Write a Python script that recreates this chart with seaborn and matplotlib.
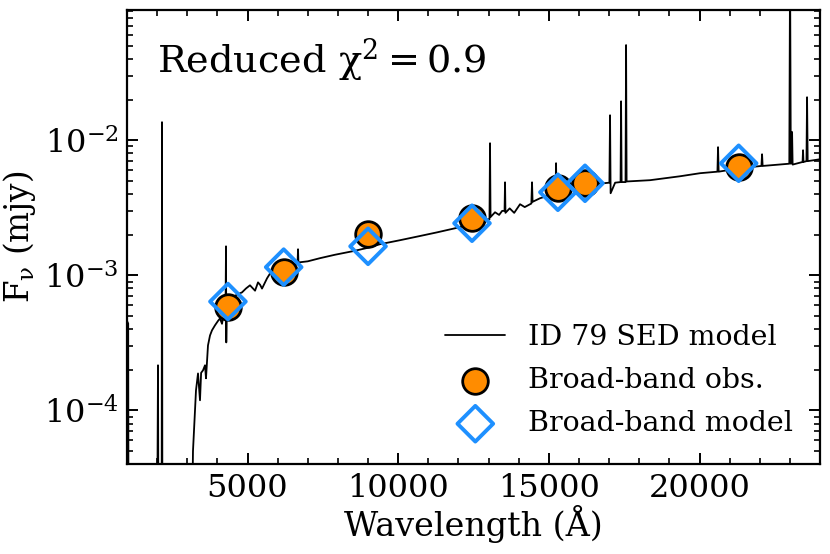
import numpy as np
import pandas as pd
import matplotlib
matplotlib.use("Agg")
import matplotlib.pyplot as plt
import matplotlib.ticker as mticker
import seaborn as sns

# ── data ─────────────────────────────────────────────────────────────────────
sed_wave = [
    1000, 1040, 1050, 2000, 2029, 2045, 2150, 2162, 2175, 3150,
    3190, 3290, 3357, 3423, 3460, 3522, 3589, 3622, 3688, 3755,
    3821, 3921, 4020, 4087, 4153, 4219, 4270, 4286, 4295, 4310,
    4419, 4518, 4650, 4817, 4950, 5082, 5250, 5348, 5420, 5481,
    5647, 5813, 6078, 6300, 6500, 6660, 6676, 6690, 6742, 7000,
    7406, 7900, 8501, 9000, 9397, 10061, 10700, 11289, 12000, 12716,
    12981, 13030, 13048, 13065, 13214, 13350, 13450, 13530, 13546, 13560,
    13700, 13850, 14044, 14200, 14420, 14442, 14460, 14708, 15000, 15220,
    15239, 15255, 15600, 16036, 16500, 16799, 17010, 17031, 17050, 17200,
    17380, 17397, 17415, 17545, 17563, 17580, 18359, 19354, 20018, 20595,
    20615, 20635, 21346, 22055, 22076, 22095, 22980, 23005, 23030, 23060,
    23072, 23090, 23420, 23436, 23450, 23550, 23569, 23590, 24000, 24500,
]
sed_flux = [
    4.6e-4, 4.4e-4, 1e-5, 1e-5, 2.16e-4, 1e-5, 1e-5, 1.36e-2, 1e-5, 1e-5,
    5e-5, 1.41e-4, 1.88e-4, 1.19e-4, 1.9e-4, 1.98e-4, 2.16e-4, 1.73e-4, 3.03e-4, 3.59e-4,
    3.92e-4, 4.27e-4, 4.6e-4, 4.8e-4, 4.38e-4, 5.32e-4, 5.4e-4, 1.64e-3, 3.19e-4, 5.6e-4,
    6.3e-4, 6.9e-4, 7.2e-4, 7.48e-4, 8.0e-4, 8.44e-4, 7.7e-4, 8.87e-4, 8.5e-4, 7.98e-4,
    9.5e-4, 1.09e-3, 1.10e-3, 1.13e-3, 1.2e-3, 1.22e-3, 1.56e-3, 1.22e-3, 1.25e-3, 1.27e-3,
    1.34e-3, 1.42e-3, 1.51e-3, 1.6e-3, 1.70e-3, 1.82e-3, 1.95e-3, 2.08e-3, 2.26e-3, 2.47e-3,
    2.6e-3, 2.6e-3, 9.5e-3, 2.7e-3, 2.93e-3, 2.8e-3, 3.0e-3, 3.0e-3, 4.88e-3, 2.9e-3,
    3.13e-3, 2.9e-3, 3.36e-3, 3.2e-3, 3.4e-3, 4.88e-3, 3.5e-3, 3.72e-3, 3.9e-3, 4.05e-3,
    6.76e-3, 4.05e-3, 4.3e-3, 4.56e-3, 4.7e-3, 4.80e-3, 4.85e-3, 1.53e-2, 4.05e-3, 4.85e-3,
    4.9e-3, 1.94e-2, 4.9e-3, 4.9e-3, 5.06e-2, 4.95e-3, 5.06e-3, 5.41e-3, 5.70e-3, 5.85e-3,
    8.88e-3, 5.85e-3, 6.21e-3, 6.45e-3, 7.87e-3, 6.45e-3, 6.7e-3, 2.0e-1, 6.7e-3, 6.8e-3,
    1.15e-2, 6.6e-3, 6.9e-3, 8.43e-3, 6.9e-3, 7.0e-3, 2.08e-2, 7.0e-3, 7.23e-3, 7.4e-3,
]

band_wave  = [4350, 6200, 9000, 12450, 15300, 16200, 21300]
obs_flux   = [5.8e-4, 1.05e-3, 2.01e-3, 2.64e-3, 4.41e-3, 4.80e-3, 6.31e-3]
model_flux = [6.4e-4, 1.15e-3, 1.64e-3, 2.43e-3, 4.12e-3, 4.80e-3, 6.75e-3]

sed = pd.DataFrame({"wave": sed_wave, "flux": sed_flux})
bands = pd.DataFrame({"wave": band_wave, "obs": obs_flux, "model": model_flux})

# ── style ────────────────────────────────────────────────────────────────────
sns.set_theme(style="ticks")
plt.rcParams.update({
    "font.family": ["DejaVu Serif"],
    "mathtext.fontset": "dejavuserif",
    "text.color": "black", "axes.labelcolor": "black",
    "xtick.color": "black", "ytick.color": "black",
    "axes.edgecolor": "black", "axes.linewidth": 1.6,
    "xtick.direction": "in", "ytick.direction": "in",
    "xtick.top": True, "ytick.right": True,
    "xtick.major.size": 8, "ytick.major.size": 8,
    "xtick.minor.size": 4, "ytick.minor.size": 4,
    "xtick.major.width": 1.4, "ytick.major.width": 1.4,
    "xtick.minor.width": 1.2, "ytick.minor.width": 1.2,
    "xtick.minor.visible": True, "ytick.minor.visible": True,
})

fig = plt.figure(figsize=(8.3, 5.54), dpi=100)
ax = fig.add_axes([0.153, 0.162, 0.835, 0.820])

sns.lineplot(data=sed, x="wave", y="flux", ax=ax, sort=False, estimator=None,
             color="black", lw=1.3, label="ID 79 SED model")
sns.scatterplot(data=bands, x="wave", y="obs", ax=ax, s=340, color="darkorange",
                edgecolor="black", linewidth=2, label="Broad-band obs.", zorder=3)
sns.scatterplot(data=bands, x="wave", y="model", ax=ax, marker="D", s=330,
                facecolor="none", edgecolor="dodgerblue", linewidth=2.8,
                label="Broad-band model", zorder=4)

ax.set_yscale("log")
ax.set_xlim(1000, 24000)
ax.set_ylim(4e-5, 0.092)
ax.xaxis.set_major_locator(mticker.MultipleLocator(5000))
ax.xaxis.set_minor_locator(mticker.MultipleLocator(1000))
ax.tick_params(labelsize=23, pad=6)

ax.set_xlabel("Wavelength (Å)", fontsize=24, labelpad=1)
ax.set_ylabel(r"F$_\mathrm{\nu}$ (mjy)", fontsize=23.5, labelpad=4)

ax.text(0.043, 0.863, r"Reduced $\mathrm{\chi}^2 = 0.9$", transform=ax.transAxes,
        fontsize=27.5, va="baseline", ha="left")

ax.legend(loc="lower right", frameon=False, fontsize=20.5, handlelength=2.1,
          handletextpad=0.8, borderaxespad=0.55, labelspacing=0.56)

fig.savefig("out.png", dpi=100)
